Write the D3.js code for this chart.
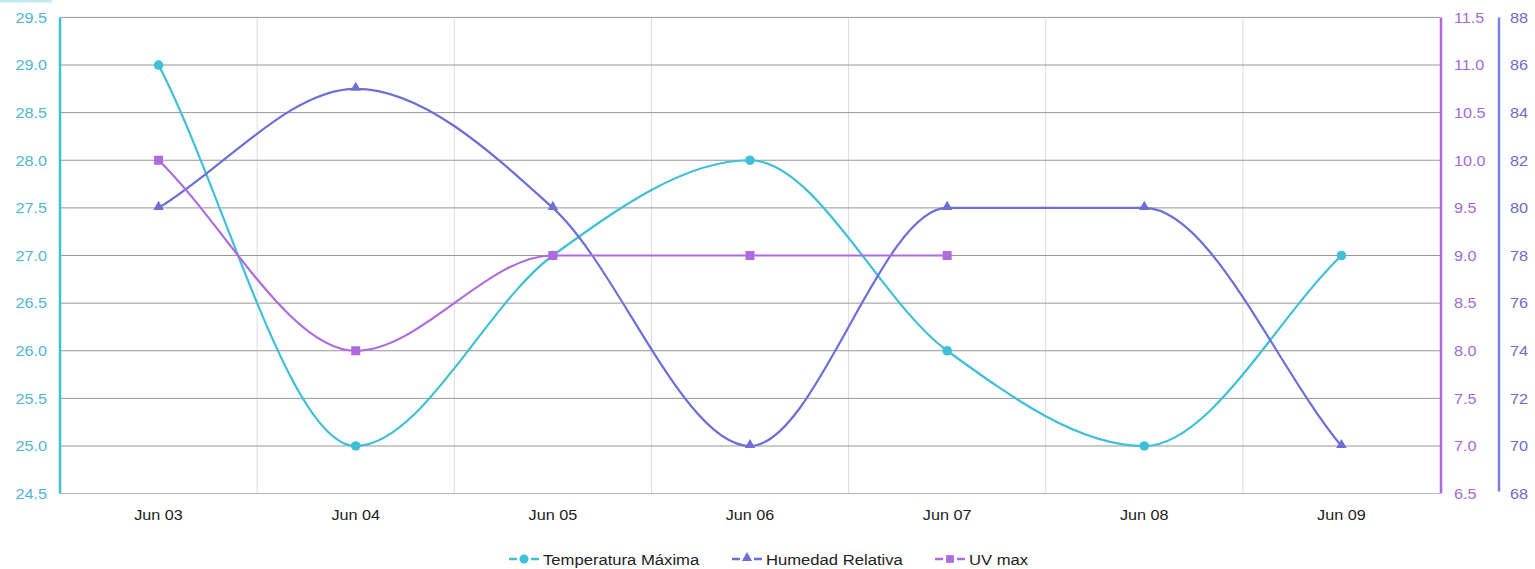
<!DOCTYPE html>
<html><head><meta charset="utf-8">
<script src="https://cdn.jsdelivr.net/npm/d3@7"></script>
<style>body{margin:0;background:#fff;font-family:"Liberation Sans",Arial,sans-serif}</style>
</head><body><svg id="c" width="1535" height="569"></svg>
<script>
const categories = ["Jun 03","Jun 04","Jun 05","Jun 06","Jun 07","Jun 08","Jun 09"];
const tempMax = [29, 25, 27, 28, 26, 25, 27];
const humedad = [80, 85, 80, 70, 80, 80, 70];
const uvMax = [10, 8, 9, 9, 9, null, null];
const tempTicks = [24.5,25,25.5,26,26.5,27,27.5,28,28.5,29,29.5];
const uvTicks = [6.5,7,7.5,8,8.5,9,9.5,10,10.5,11,11.5];
const humTicks = [68,70,72,74,76,78,80,82,84,86,88];
const seriesNames = ["Temperatura Máxima","Humedad Relativa","UV max"];

const C_T = "#3fbfd8", C_H = "#6b6fd6", C_U = "#b06ae0";
const FONT = "Liberation Sans, Arial, sans-serif";
const SX = 1.08;
const svg = d3.select("#c");
const L = 60, R = 1440, T = 17.4, B = 493.6;

const x = d3.scaleBand().domain(categories).range([L, R]);
const yT = d3.scaleLinear().domain([24.5, 29.5]).range([B, T]);
const yU = d3.scaleLinear().domain([6.5, 11.5]).range([B, T]);
const yH = d3.scaleLinear().domain([68, 88]).range([B, T]);

svg.append("rect").attr("x",0).attr("y",0).attr("width",52).attr("height",2.5).attr("fill","#bfeaf3");

const g = svg.append("g");
categories.slice(1).forEach(c => {
  g.append("line").attr("x1", x(c)).attr("x2", x(c)).attr("y1", T).attr("y2", B)
    .attr("stroke", "#dcdcdc").attr("stroke-width", 1);
});
tempTicks.forEach(t => {
  g.append("line").attr("x1", L).attr("x2", R).attr("y1", yT(t)).attr("y2", yT(t))
    .attr("stroke", t === 24.5 ? "#b0b0b0" : "#969696").attr("stroke-width", 1);
});

function styleText(sel, color) {
  sel.attr("fill", color).style("font-size","15px").style("font-family", FONT)
    .each(function(){ const t = d3.select(this); const xv = +t.attr("x") || 0;
      t.attr("x", xv / SX).attr("transform", `scale(${SX},1)`); });
}

const la = svg.append("g").attr("transform", `translate(${L},0)`)
  .call(d3.axisLeft(yT).tickValues(tempTicks).tickFormat(d3.format(".1f")).tickSize(0).tickPadding(13));
la.select(".domain").remove();
styleText(la.selectAll("text"), "#4fb6d2");
svg.append("line").attr("x1", L).attr("x2", L).attr("y1", T).attr("y2", B).attr("stroke", C_T).attr("stroke-width", 2.5);

const ua = svg.append("g").attr("transform", `translate(${R},0)`)
  .call(d3.axisRight(yU).tickValues(uvTicks).tickFormat(d3.format(".1f")).tickSize(0).tickPadding(14));
ua.select(".domain").remove();
styleText(ua.selectAll("text"), "#a46ad8");
svg.append("line").attr("x1", R+1).attr("x2", R+1).attr("y1", T).attr("y2", B).attr("stroke", C_U).attr("stroke-width", 2.5);

const HX = 1499;
const ha = svg.append("g").attr("transform", `translate(${HX},0)`)
  .call(d3.axisRight(yH).tickValues(humTicks).tickFormat(d3.format("d")).tickSize(0).tickPadding(11));
ha.select(".domain").remove();
styleText(ha.selectAll("text"), "#6a6cc8");
svg.append("line").attr("x1", HX).attr("x2", HX).attr("y1", T).attr("y2", B-2).attr("stroke", "#7b7fe0").attr("stroke-width", 2.5);

const xa = svg.append("g").attr("transform", `translate(0,${B})`)
  .call(d3.axisBottom(x).tickSize(0).tickPadding(16));
xa.select(".domain").remove();
xa.selectAll(".tick text").attr("fill","#222").style("font-size","15px").style("font-family", FONT)
  .attr("transform", `scale(${SX},1)`);

const cx = d => x(d) + x.bandwidth()/2;

// monotone cubic (Fritsch–Carlson, endpoint slopes = end secants)
function monotonePath(pts) {
  const n = pts.length, p = d3.path();
  if (!n) return "";
  const dK = [], mK = [];
  for (let i = 0; i < n - 1; i++) {
    const dx = pts[i+1][0] - pts[i][0];
    dK[i] = dx ? (pts[i+1][1] - pts[i][1]) / dx : 0;
  }
  for (let i = 0; i < n; i++) {
    if (i === 0) mK[i] = dK[0];
    else if (i === n - 1) mK[i] = dK[n-2];
    else mK[i] = Math.sign(dK[i-1]) !== Math.sign(dK[i]) ? 0 : (dK[i-1] + dK[i]) / 2;
  }
  for (let i = 0; i < n - 1; i++) {
    if (dK[i] === 0) { mK[i] = 0; mK[i+1] = 0; continue; }
    const a = mK[i] / dK[i], b = mK[i+1] / dK[i], s = a*a + b*b;
    if (s <= 9) continue;
    const tau = 3 / Math.sqrt(s);
    mK[i] = a * tau * dK[i]; mK[i+1] = b * tau * dK[i];
  }
  p.moveTo(pts[0][0], pts[0][1]);
  for (let i = 0; i < n - 1; i++) {
    const h = (pts[i+1][0] - pts[i][0]) / 3;
    p.bezierCurveTo(pts[i][0] + h, pts[i][1] + mK[i]*h,
                    pts[i+1][0] - h, pts[i+1][1] - mK[i+1]*h,
                    pts[i+1][0], pts[i+1][1]);
  }
  return p.toString();
}

function drawSeries(vals, y, color, sym) {
  const pts = categories.map((c,i) => vals[i] == null ? null : [cx(c), y(vals[i])]).filter(Boolean);
  const gs = svg.append("g");
  gs.append("path").attr("d", monotonePath(pts)).attr("fill","none")
    .attr("stroke", color).attr("stroke-width", 2.2);
  categories.forEach((c,i) => {
    if (vals[i] == null) return;
    if (sym === "circle") gs.append("circle").attr("cx", cx(c)).attr("cy", y(vals[i])).attr("r", 4.8).attr("fill", color);
    else if (sym === "tri") gs.append("path").attr("d", d3.symbol().type(d3.symbolTriangle).size(48))
      .attr("transform", `translate(${cx(c)},${y(vals[i])-1})`).attr("fill", color);
    else gs.append("path").attr("d", d3.symbol().type(d3.symbolSquare).size(81))
      .attr("transform", `translate(${cx(c)},${y(vals[i])})`).attr("fill", color);
  });
}
drawSeries(tempMax, yT, C_T, "circle");
drawSeries(humedad, yH, C_H, "tri");
drawSeries(uvMax, yU, C_U, "sq");

const legend = svg.append("g");
const items = [
  {name: seriesNames[0], color: C_T, sym: "circle", x: 509},
  {name: seriesNames[1], color: C_H, sym: "tri", x: 732},
  {name: seriesNames[2], color: C_U, sym: "sq", x: 935},
];
const LY = 559;
items.forEach(it => {
  const gi = legend.append("g").attr("transform", `translate(${it.x},${LY})`);
  gi.append("line").attr("x1",0).attr("x2",8).attr("y1",0).attr("y2",0).attr("stroke",it.color).attr("stroke-width",2.5);
  gi.append("line").attr("x1",22).attr("x2",30).attr("y1",0).attr("y2",0).attr("stroke",it.color).attr("stroke-width",2.5);
  if (it.sym === "circle") gi.append("circle").attr("cx",15).attr("cy",0).attr("r",4.5).attr("fill",it.color);
  if (it.sym === "tri") gi.append("path").attr("d", d3.symbol().type(d3.symbolTriangle).size(45)).attr("transform","translate(15,-1)").attr("fill",it.color);
  if (it.sym === "sq") gi.append("path").attr("d", d3.symbol().type(d3.symbolSquare).size(60)).attr("transform","translate(15,0)").attr("fill",it.color);
  gi.append("text").attr("x", 34/1.11).attr("y", 5.5).text(it.name).attr("fill","#222")
    .attr("transform","scale(1.11,1)")
    .style("font-size","15px").style("font-family", FONT);
});
</script></body></html>
